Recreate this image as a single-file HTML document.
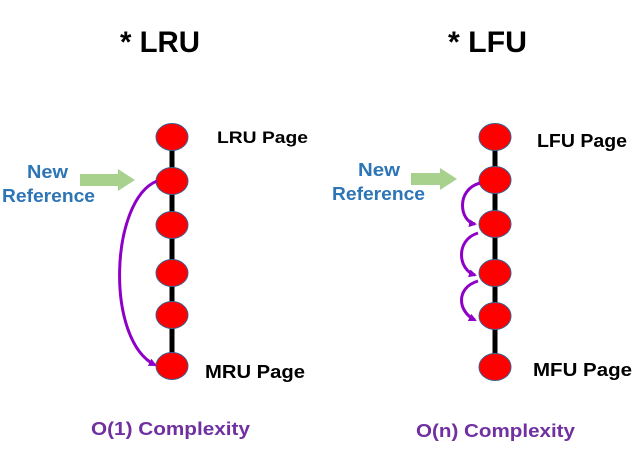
<!DOCTYPE html>
<html><head><meta charset="utf-8"><style>
html,body{margin:0;padding:0;background:#fff;width:641px;height:451px;overflow:hidden}
svg text{font-family:"Liberation Sans","Noto Sans CJK KR",sans-serif;font-weight:bold}
</style></head><body>
<svg width="641" height="451" viewBox="0 0 641 451" xmlns="http://www.w3.org/2000/svg">
<defs>
<marker id="ah" markerWidth="8" markerHeight="8" refX="6" refY="4" orient="auto" markerUnits="userSpaceOnUse">
<path d="M0,0 L8,4 L0,8 Z" fill="#8e00c8"/></marker>
</defs>
<text x="120" y="52" font-size="30" fill="#000" textLength="80" lengthAdjust="spacingAndGlyphs">* LRU</text>
<text x="448" y="52" font-size="30" fill="#000" textLength="79" lengthAdjust="spacingAndGlyphs">* LFU</text>

<line x1="172" y1="137" x2="172" y2="366" stroke="#000" stroke-width="5"/>
<line x1="495" y1="137" x2="495" y2="367" stroke="#000" stroke-width="5"/>
<g fill="#ff0000" stroke="#3f5f8f" stroke-width="1">
<ellipse cx="172" cy="137" rx="16" ry="13.5"/>
<ellipse cx="172" cy="181" rx="16" ry="13.5"/>
<ellipse cx="172" cy="225" rx="16" ry="13.5"/>
<ellipse cx="172" cy="273" rx="16" ry="13.5"/>
<ellipse cx="172" cy="315" rx="16" ry="13.5"/>
<ellipse cx="172" cy="366" rx="16" ry="13.5"/>
<ellipse cx="495" cy="137" rx="16" ry="13.5"/>
<ellipse cx="495" cy="180" rx="16" ry="13.5"/>
<ellipse cx="495" cy="224" rx="16" ry="13.5"/>
<ellipse cx="495" cy="273" rx="16" ry="13.5"/>
<ellipse cx="495" cy="316" rx="16" ry="13.5"/>
<ellipse cx="495" cy="367" rx="16" ry="13.5"/>
</g>

<path d="M80,174 H118 V169 L135,180 L118,191 V186 H80 Z" fill="#a9d18e"/>
<path d="M411,173 H440 V168 L457,179 L440,190 V185 H411 Z" fill="#a9d18e"/>

<g fill="none" stroke="#8e00c8" stroke-width="3">
<path d="M157,181 C110,200 105,340 155,365" marker-end="url(#ah)"/>
<path d="M480,183 C455,190 460,222 475,224" marker-end="url(#ah)"/>
<path d="M478,233 C455,240 458,270 475,275" marker-end="url(#ah)"/>
<path d="M478,281 C455,288 458,312 475,320" marker-end="url(#ah)"/>
</g>

<text x="217" y="143" font-size="17" fill="#000" textLength="91" lengthAdjust="spacingAndGlyphs">LRU  Page</text>
<text x="205" y="378" font-size="18" fill="#000" textLength="100" lengthAdjust="spacingAndGlyphs">MRU  Page</text>
<text x="537" y="147" font-size="18" fill="#000" textLength="90" lengthAdjust="spacingAndGlyphs">LFU  Page</text>
<text x="533" y="376" font-size="18" fill="#000" textLength="99" lengthAdjust="spacingAndGlyphs">MFU  Page</text>

<text x="27" y="178" font-size="18" fill="#2e75b6" textLength="41" lengthAdjust="spacingAndGlyphs">New</text>
<text x="2" y="202" font-size="18" fill="#2e75b6" textLength="93" lengthAdjust="spacingAndGlyphs">Reference</text>
<text x="358" y="176" font-size="18" fill="#2e75b6" textLength="42" lengthAdjust="spacingAndGlyphs">New</text>
<text x="332" y="200" font-size="18" fill="#2e75b6" textLength="93" lengthAdjust="spacingAndGlyphs">Reference</text>

<text x="91" y="435" font-size="18" fill="#7030a0" textLength="159" lengthAdjust="spacingAndGlyphs">O(1)  Complexity</text>
<text x="416" y="437" font-size="18" fill="#7030a0" textLength="159" lengthAdjust="spacingAndGlyphs">O(n)  Complexity</text>
</svg>
</body></html>
